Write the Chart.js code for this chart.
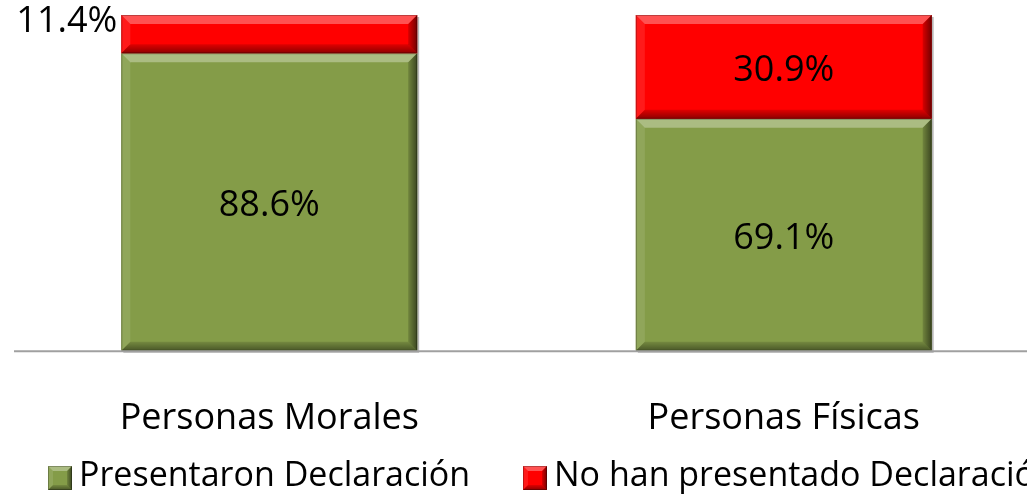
<!DOCTYPE html>
<html>
<head>
<meta charset="utf-8">
<script src="https://cdn.jsdelivr.net/npm/chart.js@4/dist/chart.umd.min.js"></script>
<style>
  html, body { margin: 0; padding: 0; background: #fff; overflow: hidden; }
  #wrap { width: 1027px; height: 498px; overflow: hidden; position: relative; }
  #box { width: 1045px; height: 498px; position: absolute; left: 0; top: 0; }
</style>
</head>
<body>
<div id="wrap"><div id="box"><canvas id="c"></canvas></div></div>
<script>
const categories = ['Personas Morales', 'Personas Físicas'];
const seriesNames = ['Presentaron Declaración', 'No han presentado Declaración'];
const presentaron = [88.6, 69.1];
const noPresentado = [11.4, 30.9];

const GREEN = '#849C48';
const RED = '#FF0000';
const FONT = "'Open Sans', 'DejaVu Sans', sans-serif";

function bevelRect(ctx, l, t, r, b, color, bev) {
  const w = r - l, h = b - t;
  bev = Math.min(bev, w / 2, h / 2);
  ctx.save();
  ctx.fillStyle = color;
  ctx.fillRect(l, t, w, h);
  ctx.beginPath();
  ctx.moveTo(l, t); ctx.lineTo(r, t); ctx.lineTo(r - bev, t + bev); ctx.lineTo(l + bev, t + bev); ctx.closePath();
  ctx.fillStyle = 'rgba(255,255,255,0.32)'; ctx.fill();
  ctx.beginPath();
  ctx.moveTo(l, t); ctx.lineTo(l + bev, t + bev); ctx.lineTo(l + bev, b - bev); ctx.lineTo(l, b); ctx.closePath();
  ctx.fillStyle = 'rgba(255,255,255,0.10)'; ctx.fill();
  ctx.beginPath();
  ctx.moveTo(r, t); ctx.lineTo(r, b); ctx.lineTo(r - bev, b - bev); ctx.lineTo(r - bev, t + bev); ctx.closePath();
  const gr = ctx.createLinearGradient(r - bev, 0, r, 0);
  gr.addColorStop(0, 'rgba(0,0,0,0.15)'); gr.addColorStop(1, 'rgba(0,0,0,0.55)');
  ctx.fillStyle = gr; ctx.fill();
  ctx.beginPath();
  ctx.moveTo(l, b); ctx.lineTo(r, b); ctx.lineTo(r - bev, b - bev); ctx.lineTo(l + bev, b - bev); ctx.closePath();
  const gb = ctx.createLinearGradient(0, b - bev, 0, b);
  gb.addColorStop(0, 'rgba(0,0,0,0.12)'); gb.addColorStop(1, 'rgba(0,0,0,0.45)');
  ctx.fillStyle = gb; ctx.fill();
  ctx.strokeStyle = 'rgba(0,0,0,0.25)';
  ctx.lineWidth = 1;
  ctx.strokeRect(l + 0.5, t + 0.5, w - 1, h - 1);
  ctx.restore();
}

const bevelPlugin = {
  id: 'bevel',
  beforeDatasetsDraw(chart) {
    const ctx = chart.ctx;
    chart.data.datasets.forEach((ds, di) => {
      chart.getDatasetMeta(di).data.forEach(el => {
        const p = el.getProps(['x', 'y', 'base', 'width'], true);
        ctx.save();
        ctx.fillStyle = 'rgba(0,0,0,0.28)';
        ctx.fillRect(p.x - p.width / 2 + 2, Math.min(p.y, p.base) + 2, p.width, Math.abs(p.base - p.y));
        ctx.restore();
      });
    });
  },
  afterDatasetsDraw(chart) {
    const ctx = chart.ctx;
    chart.data.datasets.forEach((ds, di) => {
      chart.getDatasetMeta(di).data.forEach(el => {
        const p = el.getProps(['x', 'y', 'base', 'width'], true);
        bevelRect(ctx, p.x - p.width / 2, Math.min(p.y, p.base), p.x + p.width / 2, Math.max(p.y, p.base), ds.backgroundColor, 9);
      });
    });
    ctx.save();
    ctx.fillStyle = '#000';
    ctx.font = '36px ' + FONT;
    ctx.textBaseline = 'middle';
    chart.data.datasets.forEach((ds, di) => {
      chart.getDatasetMeta(di).data.forEach((el, i) => {
        const p = el.getProps(['x', 'y', 'base', 'width'], true);
        const txt = ds.data[i].toFixed(1) + '%';
        const h = Math.abs(p.base - p.y);
        if (h < 50) {
          ctx.textAlign = 'right';
          ctx.fillText(txt, p.x - p.width / 2 - 4, p.y + 7);
        } else {
          ctx.textAlign = 'center';
          ctx.fillText(txt, p.x, (p.y + p.base) / 2 + 4);
        }
      });
    });
    ctx.restore();
  },
  afterDraw(chart) {
    const ctx = chart.ctx;
    ctx.save();
    ctx.strokeStyle = '#A0A0A0';
    ctx.lineWidth = 2;
    const yb = chart.scales.y.getPixelForValue(0);
    ctx.beginPath();
    ctx.moveTo(14, yb + 0.5); ctx.lineTo(chart.width, yb + 0.5); ctx.stroke();
    ctx.restore();
    ctx.save();
    ctx.font = '34px ' + FONT;
    ctx.textBaseline = 'middle';
    ctx.textAlign = 'left';
    const cy = 478;
    const starts = [48, 523];
    chart.data.datasets.forEach((ds, di) => {
      const bx = starts[di];
      bevelRect(ctx, bx, cy - 12, bx + 24, cy + 12, ds.backgroundColor, 5);
      ctx.fillStyle = '#000';
      ctx.fillText(ds.label, bx + 31, cy - 2);
    });
    ctx.restore();
  }
};

new Chart(document.getElementById('c'), {
  type: 'bar',
  data: {
    labels: categories,
    datasets: [
      { label: seriesNames[0], data: presentaron, backgroundColor: GREEN, borderWidth: 0 },
      { label: seriesNames[1], data: noPresentado, backgroundColor: RED, borderWidth: 0 }
    ]
  },
  options: {
    responsive: true,
    maintainAspectRatio: false,
    animation: false,
    events: [],
    layout: { padding: { top: 15, left: 12, right: 4, bottom: 12 } },
    plugins: { legend: { display: false }, tooltip: { enabled: false } },
    datasets: { bar: { categoryPercentage: 1, barPercentage: 0.575 } },
    scales: {
      x: {
        stacked: true,
        grid: { display: false, drawTicks: false },
        border: { display: false },
        ticks: { color: '#000', font: { family: FONT, size: 36 }, padding: 46 }
      },
      y: {
        stacked: true,
        display: false,
        min: 0,
        max: 100
      }
    }
  },
  plugins: [bevelPlugin]
});
</script>
</body>
</html>
